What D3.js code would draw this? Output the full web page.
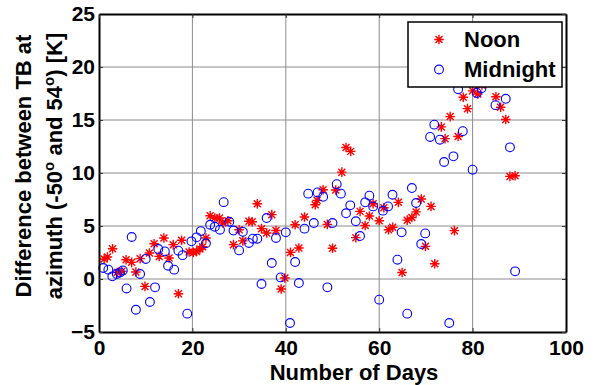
<!DOCTYPE html>
<html lang="en">
<head>
<meta charset="UTF-8">
<title>TB difference vs days</title>
<script src="https://d3js.org/d3.v7.min.js"></script>
<style>
    body { margin: 0; background: #fff; }
    text { font-family: "Liberation Sans", Arial, sans-serif; font-weight: bold; fill: #000; }
    .grid line { stroke: #8c8c8c; stroke-width: 1; }
    .noon { fill: none; stroke: #ff0000; stroke-width: 1.4; }
    .midnight { fill: none; stroke: #0000ff; stroke-width: 1.1; }
</style>
</head>
<body>
<svg width="595" height="385"></svg>
<script>
// x tick values and y tick values
var xTicks = [0, 20, 40, 60, 80, 100];
var yTicks = [-5, 0, 5, 10, 15, 20, 25];
var seriesNames = ["Noon", "Midnight"];

// [day, difference in K]
var noon = [
    [1.1, 1.89], [1.8, 2.07], [2.9, 2.86], [3.9, 0.62], [4.9, 0.72], [5.8, 1.82], [7.0, 1.57],
    [7.9, 0.66], [8.8, 1.92], [9.85, -0.7], [10.8, 2.45], [11.8, 3.33], [12.9, 2.13], [13.9, 3.87],
    [15.0, 1.98], [15.9, 3.24], [17.0, -1.39], [17.7, 3.65], [19.3, 2.55], [20.2, 2.5], [20.9, 2.6],
    [21.6, 2.83], [22.2, 3.05], [22.9, 3.87], [23.8, 5.97], [24.8, 5.75], [25.8, 5.75], [26.5, 5.28],
    [27.6, 5.5], [28.8, 3.24], [30.0, 4.65], [30.8, 3.6], [32.1, 5.45], [32.8, 5.4], [33.9, 7.1],
    [34.8, 4.75], [35.9, 4.34], [37.0, 6.07], [37.9, 4.58], [39.0, -0.94], [39.8, 0.09], [41.0, 2.51],
    [42.0, 5.12], [42.8, 2.92], [44.0, 5.85], [46.3, 7.0], [46.7, 7.42], [48.0, 8.42], [48.9, 5.15],
    [50.0, 2.9], [50.7, 8.4], [52.0, 10.08], [52.9, 12.4], [53.9, 12.04], [55.0, 3.9], [55.9, 6.38],
    [57.0, 5.05], [57.9, 5.95], [58.7, 7.1], [60.0, 5.5], [61.0, 6.72], [62.0, 4.65], [62.9, 4.88],
    [64.1, 7.23], [64.9, 0.62], [66.0, 5.55], [67.0, 5.8], [67.9, 6.33], [69.0, 7.55], [69.9, 3.08],
    [71.1, 6.85], [71.9, 1.44], [73.3, 14.35], [74.1, 13.24], [75.2, 15.32], [76.1, 4.56], [76.9, 13.45],
    [78.0, 17.15], [78.9, 16.07], [80.0, 17.75], [81.1, 17.45], [82.0, 18.3], [85.0, 17.2], [86.0, 16.2],
    [87.1, 15.05], [88.0, 9.68], [89.1, 9.74]
];

var midnight = [
    [0.9, 1.04], [2.0, 0.88], [2.85, 0.25], [3.8, 0.47], [4.5, 0.62], [5.1, 0.81], [5.9, -0.89],
    [7.0, 3.96], [7.9, -2.9], [8.8, 0.47], [10.0, 1.89], [10.9, -2.17], [12.0, -0.79], [12.7, 2.83],
    [14.1, 2.6], [14.8, 1.25], [16.1, 0.88], [17.0, 2.67], [17.9, 2.25], [18.9, -3.27], [19.8, 3.55],
    [20.9, 3.93], [21.8, 4.52], [22.9, 3.37], [23.8, 5.12], [24.8, 4.93], [25.9, 4.65], [26.7, 7.25],
    [27.9, 5.4], [28.8, 4.57], [30.0, 2.7], [30.8, 4.45], [32.1, 3.4], [32.95, 3.8], [33.9, 3.8],
    [34.8, -0.47], [35.9, 5.75], [37.0, 1.51], [37.9, 3.87], [38.9, 0.15], [40.0, 4.4], [40.9, -4.15],
    [42.0, 1.6], [42.8, -0.38], [44.0, 4.75], [44.8, 8.05], [46.0, 5.28], [46.8, 8.17], [48.0, 7.75],
    [48.9, -0.79], [50.0, 5.28], [50.9, 8.95], [51.8, 8.05], [52.9, 6.2], [53.8, 6.95], [55.0, 5.45],
    [55.9, 4.05], [57.0, 7.23], [57.9, 7.86], [58.7, 6.85], [60.0, -1.95], [60.8, 6.45], [61.9, 6.85],
    [62.85, 7.95], [63.9, 1.82], [64.8, 4.4], [66.0, -3.27], [67.0, 8.58], [67.9, 7.17], [69.0, 3.3],
    [69.85, 4.3], [70.9, 13.4], [71.8, 14.56], [73.0, 13.14], [73.9, 11.04], [75.0, -4.15], [75.9, 11.57],
    [76.9, 17.9], [77.9, 13.95], [80.0, 10.31], [80.9, 17.55], [81.9, 18.0], [84.9, 16.4], [87.1, 17.0],
    [88.0, 12.42], [89.1, 0.72]
];

// plot box in pixels (window.top is taken, so prefixed names)
var plotLeft = 99, plotRight = 566, plotTop = 14, plotBottom = 332;

var x = d3.scaleLinear().domain([0, 100]).range([plotLeft, plotRight]);
var y = d3.scaleLinear().domain([-5, 25]).range([plotBottom, plotTop]);

var svg = d3.select('svg');
var font = '"Liberation Sans", Arial, sans-serif';

// grid
var grid = svg.append('g').attr('class', 'grid');
grid.selectAll('line.v')
    .data(xTicks.slice(1, -1))
    .enter().append('line')
        .attr('x1', function(d){ return x(d); })
        .attr('x2', function(d){ return x(d); })
        .attr('y1', plotTop).attr('y2', plotBottom);
grid.selectAll('line.h')
    .data(yTicks.slice(1, -1))
    .enter().append('line')
        .attr('x1', plotLeft).attr('x2', plotRight)
        .attr('y1', function(d){ return y(d); })
        .attr('y2', function(d){ return y(d); });

// asterisk marker like matlab '*': plus and cross
function star(cx, cy){
    var r = 4.8, q = 3.5;
    return 'M' + cx + ',' + (cy - r) + 'V' + (cy + r) +
        'M' + (cx - r) + ',' + cy + 'H' + (cx + r) +
        'M' + (cx - q) + ',' + (cy - q) + 'L' + (cx + q) + ',' + (cy + q) +
        'M' + (cx - q) + ',' + (cy + q) + 'L' + (cx + q) + ',' + (cy - q);
}

svg.append('g')
    .selectAll('path')
    .data(noon)
    .enter().append('path')
        .attr('class', 'noon')
        .attr('d', function(d){ return star(x(d[0]), y(d[1])); });

svg.append('g')
    .selectAll('circle')
    .data(midnight)
    .enter().append('circle')
        .attr('class', 'midnight')
        .attr('cx', function(d){ return x(d[0]); })
        .attr('cy', function(d){ return y(d[1]); })
        .attr('r', 4.4);

// axes (box with inward ticks)
var xAxis = d3.axisBottom(x).tickValues(xTicks).tickSizeInner(-4).tickSizeOuter(0).tickPadding(8);
var yAxis = d3.axisLeft(y).tickValues(yTicks).tickSizeInner(-4).tickSizeOuter(0).tickPadding(4);

var gx = svg.append('g').attr('transform', 'translate(0,' + plotBottom + ')').call(xAxis);
var gy = svg.append('g').attr('transform', 'translate(' + plotLeft + ',0)').call(yAxis);
svg.append('g').attr('transform', 'translate(0,' + plotTop + ')')
    .call(d3.axisTop(x).tickValues(xTicks).tickSizeInner(-4).tickSizeOuter(0).tickFormat(''));
svg.append('g').attr('transform', 'translate(' + plotRight + ',0)')
    .call(d3.axisRight(y).tickValues(yTicks).tickSizeInner(-4).tickSizeOuter(0).tickFormat(''));

svg.selectAll('.domain').attr('stroke', '#000').attr('stroke-width', 2);
svg.selectAll('.tick line').attr('stroke', '#333');
svg.selectAll('.tick text')
    .attr('font-size', null).attr('font-family', null)
    .style('font-size', '21px').style('font-family', font).style('font-weight', 'bold').style('fill', '#000');

// axis labels
svg.append('text')
    .attr('x', 354).attr('y', 380)
    .attr('text-anchor', 'middle')
    .style('font-size', '22px')
    .text('Number of Days');

var ylab = svg.append('g').attr('transform', 'translate(0,166) rotate(-90)');
ylab.append('text')
    .attr('x', 0).attr('y', 31)
    .attr('text-anchor', 'middle')
    .style('font-size', '22px')
    .text('Difference between TB at');
var l2 = ylab.append('text')
    .attr('x', 0).attr('y', 62)
    .attr('text-anchor', 'middle')
    .style('font-size', '22px');
l2.append('tspan').text('azimuth (-50');
l2.append('tspan').attr('dy', -8).style('font-size', '15px').text('o');
l2.append('tspan').attr('dy', 8).text(' and 54');
l2.append('tspan').attr('dy', -8).style('font-size', '15px').text('o');
l2.append('tspan').attr('dy', 8).text(') [K]');

// legend
var legend = svg.append('g');
legend.append('rect')
    .attr('x', 408).attr('y', 22).attr('width', 154).attr('height', 65)
    .attr('fill', '#fff').attr('stroke', '#000').attr('stroke-width', 1.5);
legend.append('path').attr('class', 'noon').attr('d', star(439, 39.5));
legend.append('circle').attr('class', 'midnight').attr('cx', 439).attr('cy', 69.5).attr('r', 4.4);
legend.selectAll('text.lg')
    .data(seriesNames)
    .enter().append('text')
        .attr('x', 464)
        .attr('y', function(d, i){ return 47 + i * 30; })
        .style('font-size', '22px')
        .text(function(d){ return d; });
</script>
</body>
</html>
